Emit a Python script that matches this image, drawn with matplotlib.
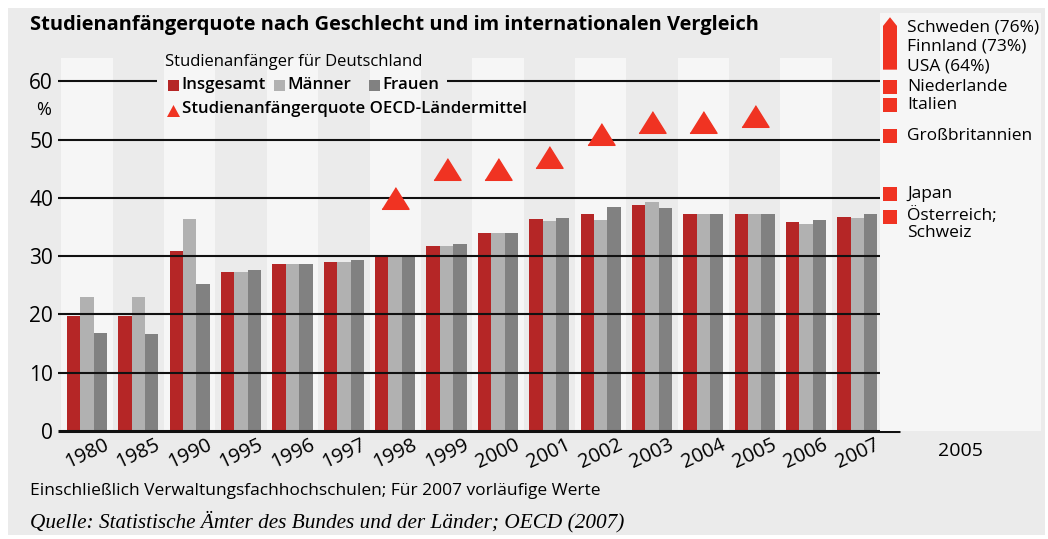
import numpy as np
import matplotlib
matplotlib.use("Agg")
from matplotlib import pyplot as plt
from matplotlib.patches import Rectangle, Polygon

plt.rcParams['font.family'] = ['Open Sans', 'DejaVu Sans']

# data
years = ["1980", "1985", "1990", "1995", "1996", "1997", "1998", "1999",
         "2000", "2001", "2002", "2003", "2004", "2005", "2006", "2007"]
insgesamt = [19.8, 19.8, 30.9, 27.2, 28.7, 29.0, 30.0, 31.8,
             34.0, 36.4, 37.2, 38.8, 37.2, 37.2, 35.9, 36.7]
maenner = [23.0, 23.0, 36.4, 27.2, 28.7, 29.0, 30.0, 31.8,
           33.9, 36.1, 36.2, 39.3, 37.2, 37.2, 35.6, 36.5]
frauen = [16.8, 16.6, 25.3, 27.6, 28.7, 29.4, 30.0, 32.1,
          34.0, 36.6, 38.5, 38.3, 37.2, 37.2, 36.2, 37.2]
oecd_years = ["1998", "1999", "2000", "2001", "2002", "2003", "2004", "2005"]
oecd_mittel = [40, 45, 45, 47, 51, 53, 53, 54]

laender = ["Niederlande", "Italien", "Großbritannien", "Japan", "Österreich;\nSchweiz"]
laender_quote = [59, 56, 50.6, 40.6, 36.8]
spitze_laender = ["Schweden (76%)", "Finnland (73%)", "USA (64%)"]
spitze_quote = [76, 73, 64]

yticks = [0, 10, 20, 30, 40, 50, 60]

W, H = 1048, 539
BG = "#ebebeb"
LIGHT = "#f6f6f6"
C_INS = "#b52626"
C_MAE = "#b1b1b1"
C_FRA = "#818181"
C_OECD = "#f03322"


def fx(px):
    return px / W


def fy(py):
    return 1 - py / H


fig = plt.figure(figsize=(W / 100, H / 100), dpi=100)
fig.patch.set_facecolor("white")
fig.add_artist(Rectangle((fx(8), fy(535)), fx(1037), 527 / H, transform=fig.transFigure,
                         facecolor=BG, edgecolor="none", zorder=-10))

# main axes
x0, x1, ybot, ytop = 61.4, 883, 431, 58
ax = fig.add_axes([fx(x0), fy(ybot), (x1 - x0) / W, (ybot - ytop) / H])
ax.set_facecolor(BG)
ymax = 64
ax.set_ylim(0, ymax)
ax.set_xlim(-0.5, len(years) - 0.5)
for s in ax.spines.values():
    s.set_visible(False)

x = np.arange(len(years))
for i in range(0, len(years), 2):
    ax.axvspan(i - 0.5, i + 0.5, color=LIGHT, zorder=0, lw=0)

bw = 0.26
ax.bar(x - bw, insgesamt, bw, color=C_INS, zorder=2)
ax.bar(x, maenner, bw, color=C_MAE, zorder=2)
ax.bar(x + bw, frauen, bw, color=C_FRA, zorder=2)

ox = [years.index(y) for y in oecd_years]
tri = [(-1, -0.8), (1, -0.8), (0, 0.8)]
ax.plot(ox, oecd_mittel, ls="none", marker=tri, markersize=19.5, color=C_OECD, zorder=4,
        clip_on=False)


def axx(px):
    return (px - x0) / (x1 - x0)


ytr = ax.get_yaxis_transform()
for v in yticks:
    if v == 60:
        ax.hlines(v, axx(58), axx(157), transform=ytr, color="#111111", lw=1.5, zorder=3, clip_on=False)
        ax.hlines(v, axx(447), axx(902), transform=ytr, color="#111111", lw=1.5, zorder=3, clip_on=False)
    elif v == 0:
        ax.hlines(v, axx(58), axx(900), transform=ytr, color="#111111", lw=2.2, zorder=3, clip_on=False)
    else:
        ax.hlines(v, axx(58), axx(902), transform=ytr, color="#111111", lw=1.5, zorder=3, clip_on=False)

ax.set_yticks(yticks)
ax.set_yticklabels([str(v) for v in yticks], fontsize=15)
ax.set_xticks(x)
ax.set_xticklabels(years, rotation=25, fontsize=14.5)
ax.tick_params(axis="both", length=0)
ax.tick_params(axis="y", pad=6)
ax.tick_params(axis="x", pad=3)
ax.text(-0.013, 55, "%", transform=ytr, ha="right", va="center", fontsize=13)

# right panel: international comparison 2005
ax2 = fig.add_axes([fx(880), fy(ybot), 161 / W, (ybot - 13) / H])
ax2.set_facecolor(LIGHT)
ax2.set_ylim(0, ymax * (ybot - 13) / (ybot - ytop))
ax2.set_xlim(0, 161)
for s in ax2.spines.values():
    s.set_visible(False)
ax2.set_yticks([])
ax2.set_xticks([80.5])
ax2.set_xticklabels(["2005"], fontsize=14)
ax2.tick_params(length=0, pad=8)

ax2.scatter([10] * len(laender_quote), laender_quote, marker="s", s=100, color=C_OECD,
            linewidths=0, zorder=2)
for name, v in zip(laender, laender_quote):
    if "\n" in name:
        ax2.text(27, v + 1.6, name, va="top", ha="left", fontsize=12.5, linespacing=1.1)
    else:
        ax2.text(27, v, name, va="center", ha="left", fontsize=12.5)

# clipped arrow for the countries above the scale
a_lo, a_top = 62, 71
ax2.add_patch(Polygon([(3, a_lo), (17, a_lo), (17, a_top - 1.5), (10, a_top), (3, a_top - 1.5)],
                      closed=True, color=C_OECD, lw=0, zorder=2))
ax2.text(27, 70.6, "\n".join(spitze_laender), va="top", ha="left", fontsize=12.5, linespacing=1.27)

# legend
fig.text(fx(165), fy(62), "Studienanfänger für Deutschland", va="center", fontsize=12)
for px, col, lab in [(168, C_INS, "Insgesamt"), (274, C_MAE, "Männer"), (369, C_FRA, "Frauen")]:
    fig.add_artist(Rectangle((fx(px), fy(91)), 11 / W, 11 / H, transform=fig.transFigure,
                             facecolor=col, edgecolor="none"))
    fig.text(fx(px + 13), fy(85), lab, va="center", fontsize=12.2, fontweight="semibold")
fig.add_artist(Polygon([(fx(167), fy(117)), (fx(180), fy(117)), (fx(173.5), fy(105))],
                       closed=True, transform=fig.transFigure, color=C_OECD, lw=0))
fig.text(fx(182), fy(109), "Studienanfängerquote OECD-Ländermittel", va="center", fontsize=12.2,
         fontweight="semibold")

fig.text(fx(30), fy(25), "Studienanfängerquote nach Geschlecht und im internationalen Vergleich",
         va="center", fontsize=14.4, fontweight="bold")
fig.text(fx(30), fy(491), "Einschließlich Verwaltungsfachhochschulen; Für 2007 vorläufige Werte",
         va="center", fontsize=12.5)
fig.text(fx(30), fy(522), "Quelle: Statistische Ämter des Bundes und der Länder; OECD (2007)",
         va="center", fontsize=15.3, family="Liberation Serif", style="italic")

fig.savefig("out.png", dpi=100, facecolor=fig.get_facecolor())
